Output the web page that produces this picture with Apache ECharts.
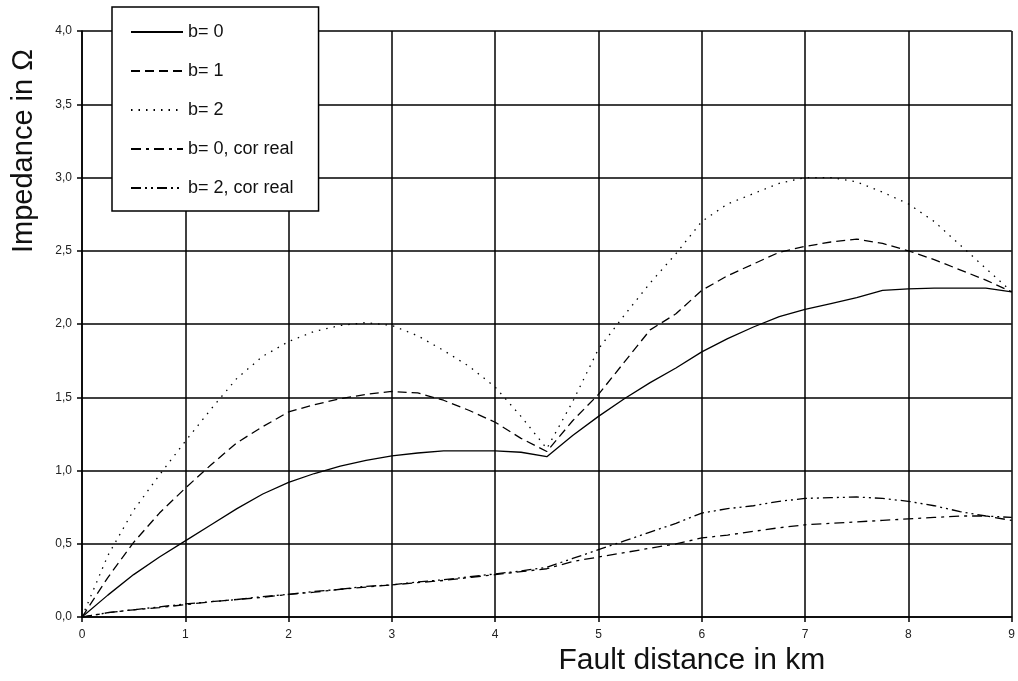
<!DOCTYPE html>
<html>
<head>
<meta charset="utf-8">
<script src="https://cdn.jsdelivr.net/npm/echarts@6/dist/echarts.min.js"></script>
<style>
  html, body { margin: 0; padding: 0; background: #fff; }
  #chart { width: 1018px; height: 681px; }
</style>
</head>
<body>
<div id="chart"></div>
<script>
// fault distance in km
var distance = [0, 0.25, 0.5, 0.75, 1, 1.25, 1.5, 1.75, 2, 2.25, 2.5, 2.75, 3, 3.25, 3.5, 3.75, 4, 4.25, 4.5,
  4.75, 5, 5.25, 5.5, 5.75, 6, 6.25, 6.5, 6.75, 7, 7.25, 7.5, 7.75, 8, 8.25, 8.5, 8.75, 9];

// impedance values per curve
var b0 = [0, 0.15, 0.29, 0.41, 0.52, 0.63, 0.74, 0.84, 0.92, 0.98, 1.03, 1.07, 1.10, 1.12, 1.135, 1.135, 1.135, 1.125, 1.095,
  1.24, 1.37, 1.49, 1.60, 1.70, 1.81, 1.90, 1.98, 2.05, 2.10, 2.14, 2.18, 2.23, 2.24, 2.245, 2.245, 2.245, 2.22];
var b1 = [0, 0.27, 0.51, 0.71, 0.88, 1.04, 1.19, 1.30, 1.40, 1.45, 1.49, 1.52, 1.54, 1.53, 1.48, 1.41, 1.33, 1.22, 1.13,
  1.34, 1.52, 1.74, 1.96, 2.07, 2.23, 2.33, 2.41, 2.49, 2.53, 2.56, 2.58, 2.55, 2.50, 2.44, 2.37, 2.30, 2.22];
var b2 = [0, 0.42, 0.73, 0.97, 1.20, 1.42, 1.63, 1.78, 1.88, 1.95, 1.99, 2.01, 1.99, 1.92, 1.82, 1.71, 1.57, 1.37, 1.15,
  1.47, 1.83, 2.06, 2.28, 2.48, 2.70, 2.82, 2.89, 2.96, 3.00, 3.00, 2.97, 2.90, 2.82, 2.70, 2.54, 2.38, 2.22];
var b0Real = [0, 0.03, 0.05, 0.065, 0.085, 0.105, 0.12, 0.135, 0.155, 0.17, 0.19, 0.205, 0.22, 0.235, 0.25, 0.27, 0.29, 0.31, 0.33,
  0.38, 0.41, 0.44, 0.47, 0.50, 0.54, 0.56, 0.585, 0.61, 0.63, 0.64, 0.65, 0.66, 0.67, 0.68, 0.69, 0.69, 0.66];
var b2Real = [0, 0.03, 0.05, 0.07, 0.09, 0.105, 0.12, 0.14, 0.155, 0.175, 0.19, 0.21, 0.22, 0.24, 0.255, 0.275, 0.295, 0.315, 0.34,
  0.40, 0.46, 0.52, 0.58, 0.64, 0.71, 0.74, 0.76, 0.79, 0.81, 0.815, 0.82, 0.81, 0.79, 0.76, 0.72, 0.69, 0.68];

var names = ['b= 0', 'b= 1', 'b= 2', 'b= 0, cor real', 'b= 2, cor real'];
var curves = [b0, b1, b2, b0Real, b2Real];
var dashes = ['solid', [9, 5], [1.5, 6], [10, 5, 3, 5], [10, 4, 2, 4, 2, 4]];

function pairs(ys) {
  return distance.map(function (x, i) { return [x, ys[i]]; });
}

var font = 'Liberation Sans, Arial, sans-serif';

var chart = echarts.init(document.getElementById('chart'));

var series = names.map(function (n, i) {
  return {
    name: n,
    type: 'line',
    data: pairs(curves[i]),
    symbol: 'none',
    showSymbol: false,
    color: '#000',
    lineStyle: { color: '#000', width: 1.3, type: dashes[i] }
  };
});

var option = {
  backgroundColor: '#fff',
  animation: false,
  grid: { left: 82, right: 6, top: 31, bottom: 62 },
  legend: {
    orient: 'vertical',
    left: 112,
    top: 7,
    padding: [16, 25, 14, 18],
    itemGap: 21,
    itemWidth: 52,
    itemHeight: 14,
    backgroundColor: '#fff',
    borderColor: '#000',
    borderWidth: 1.5,
    borderRadius: 0,
    itemStyle: { opacity: 0, borderWidth: 0 },
    textStyle: { fontFamily: font, fontSize: 18, color: '#111' },
    data: names
  },
  xAxis: {
    type: 'value',
    min: 0,
    max: 9,
    interval: 1,
    name: 'Fault distance in km',
    nameLocation: 'middle',
    nameGap: 26,
    nameTextStyle: { fontFamily: font, fontSize: 30, color: '#111', padding: [0, 0, 0, 290] },
    axisLine: { show: true, lineStyle: { color: '#000', width: 1.5 } },
    axisTick: { show: true, length: 5, lineStyle: { color: '#000', width: 1.5 } },
    axisLabel: { fontFamily: font, fontSize: 12, color: '#222', margin: 12 },
    splitLine: { show: true, lineStyle: { color: '#000', width: 1.5 } }
  },
  yAxis: {
    type: 'value',
    min: 0,
    max: 4,
    interval: 0.5,
    name: 'Impedance in Ω',
    nameLocation: 'middle',
    nameGap: 44,
    nameTextStyle: { fontFamily: font, fontSize: 29, color: '#111', padding: [0, 0, 0, 346] },
    axisLine: { show: true, lineStyle: { color: '#000', width: 1.5 } },
    axisTick: { show: true, length: 5, lineStyle: { color: '#000', width: 1.5 } },
    axisLabel: {
      fontFamily: font, fontSize: 12, color: '#222', margin: 10,
      formatter: function (v) { return v.toFixed(1).replace('.', ','); }
    },
    splitLine: { show: true, lineStyle: { color: '#000', width: 1.5 } }
  },
  series: series
};

chart.setOption(option);
</script>
</body>
</html>
